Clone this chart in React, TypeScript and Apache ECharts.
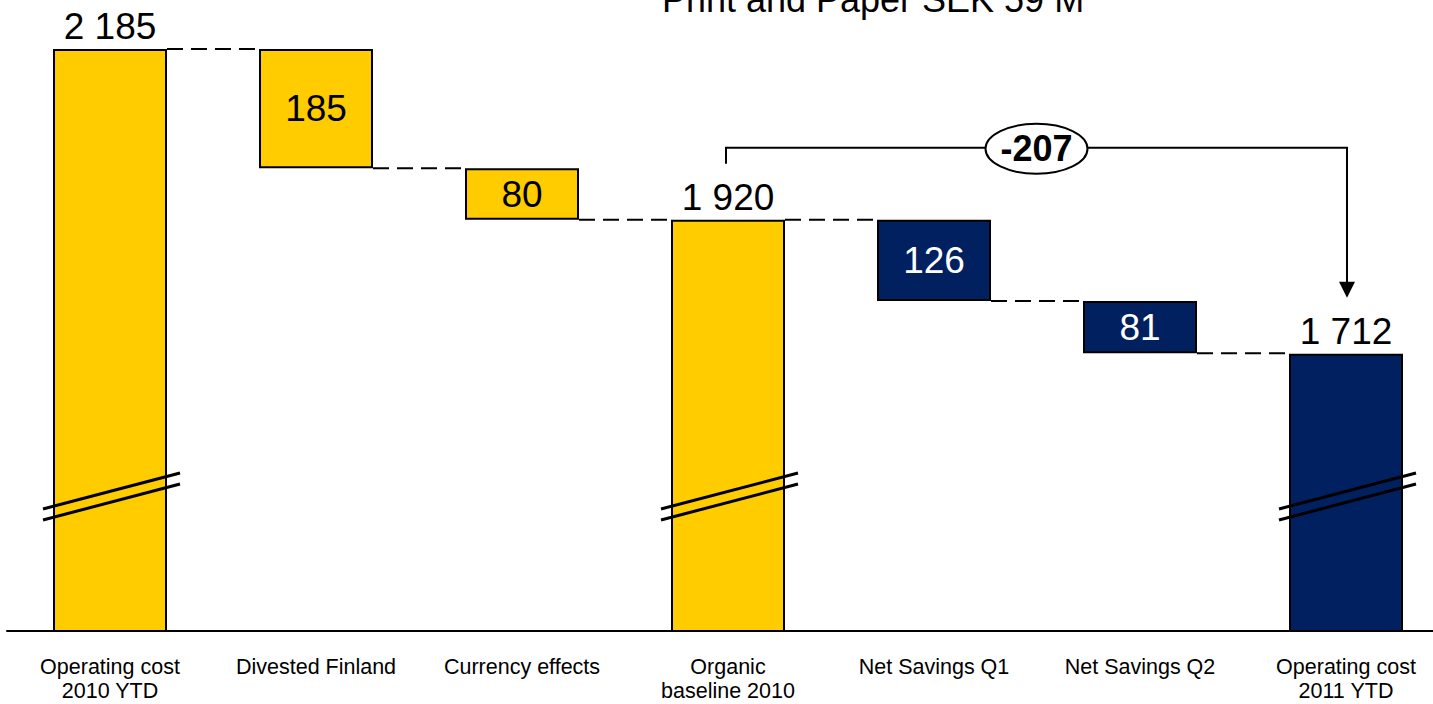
import React, { useEffect, useRef } from 'react';
import * as echarts from 'echarts';

const categories = [
  'Operating cost\n2010 YTD',
  'Divested Finland',
  'Currency effects',
  'Organic\nbaseline 2010',
  'Net Savings Q1',
  'Net Savings Q2',
  'Operating cost\n2011 YTD',
];
const values = [2185, 185, 80, 1920, 126, 81, 1712];
const isTotal = [true, false, false, true, false, false, true];
const barColors = ['#FFCC00', '#FFCC00', '#FFCC00', '#FFCC00', '#002060', '#002060', '#002060'];
const labelColors = ['#000', '#000', '#000', '#000', '#fff', '#fff', '#000'];
const titleText = 'Print and Paper SEK 59 M';
const bracketText = '-207';
const bracketFrom = 3;
const bracketTo = 6;
const axisMin = 1282;
const axisMax = 2261;

const FONT = 'Arial, "Liberation Sans", sans-serif';

const fmt = (v: number) => String(v).replace(/\B(?=(\d{3})+(?!\d))/g, ' ');

export default function App() {
  const ref = useRef<HTMLDivElement>(null);
  useEffect(() => {
    if (!ref.current) return;
    const chart = echarts.init(ref.current, null, { renderer: 'svg' });

    const tops: number[] = [];
    const bottoms: number[] = [];
    let level = 0;
    values.forEach((v, i) => {
      if (isTotal[i]) {
        tops.push(v);
        bottoms.push(0);
        level = v;
      } else {
        tops.push(level);
        bottoms.push(level - v);
        level = level - v;
      }
    });

    const barW = 114;

    chart.setOption({
      animation: false,
      grid: { left: 7, top: 0, bottom: 73, width: 1442, outerBoundsMode: 'none', containLabel: false },
      xAxis: {
        type: 'category',
        data: categories,
        axisTick: { show: false },
        axisLine: { lineStyle: { color: '#000', width: 2 } },
        axisLabel: {
          interval: 0,
          color: '#000',
          fontFamily: FONT,
          fontSize: 21.5,
          lineHeight: 24,
          margin: 24,
        },
      },
      yAxis: {
        type: 'value',
        min: axisMin,
        max: axisMax,
        show: false,
        splitLine: { show: false },
      },
      series: [
        {
          type: 'bar',
          stack: 'wf',
          barWidth: barW,
          silent: true,
          itemStyle: { color: 'transparent', borderWidth: 0 },
          data: bottoms,
        },
        {
          type: 'bar',
          stack: 'wf',
          barWidth: barW,
          data: values.map((v, i) => ({
            value: v,
            itemStyle: { color: barColors[i], borderColor: '#000', borderWidth: 2 },
            label: {
              show: true,
              position: isTotal[i] ? 'top' : 'inside',
              distance: 4,
              formatter: fmt(v),
              color: isTotal[i] ? '#000' : labelColors[i],
              fontFamily: FONT,
              fontSize: 37,
            },
          })),
        },
      ],
    });

    const pt = (i: number, v: number) => chart.convertToPixel({ gridIndex: 0 }, [i, v]) as number[];
    const half = barW / 2;
    const graphics: any[] = [];

    for (let i = 0; i < values.length - 1; i++) {
      const lvl = isTotal[i] ? tops[i] : bottoms[i];
      const a = pt(i, lvl);
      const b = pt(i + 1, lvl);
      graphics.push({
        type: 'line',
        shape: { x1: a[0] + half, y1: a[1], x2: b[0] - half, y2: b[1] },
        style: { stroke: '#000', lineWidth: 2, lineDash: [16, 8] },
      });
    }

    values.forEach((v, i) => {
      if (!isTotal[i]) return;
      const base = pt(i, axisMin);
      const cx = base[0];
      const yb = base[1] - 122;
      [0, 11].forEach((off) => {
        graphics.push({
          type: 'line',
          shape: { x1: cx - 67, y1: yb + off, x2: cx + 70, y2: yb + off - 36 },
          style: { stroke: '#000', lineWidth: 3 },
          z: 10,
        });
      });
    });

    const p1 = pt(bracketFrom, tops[bracketFrom]);
    const p2 = pt(bracketTo, tops[bracketTo]);
    const x1 = p1[0] - 2;
    const x2 = p2[0] + 1;
    const yTop = p1[1] - 72;
    const yFoot = p1[1] - 56;
    const yTip = p2[1] - 56;
    graphics.push({
      type: 'polyline',
      shape: { points: [[x1, yFoot], [x1, yTop], [x2, yTop], [x2, yTip - 10]] },
      style: { stroke: '#000', lineWidth: 2, fill: null },
      z: 10,
    });
    graphics.push({
      type: 'polygon',
      shape: { points: [[x2 - 8, yTip - 16], [x2 + 8, yTip - 16], [x2, yTip]] },
      style: { fill: '#000' },
      z: 10,
    });
    const ecx = (x1 + x2) / 2;
    graphics.push({
      type: 'ellipse',
      shape: { cx: ecx, cy: yTop + 1, rx: 51, ry: 25 },
      style: { fill: '#fff', stroke: '#000', lineWidth: 2 },
      z: 11,
    });
    graphics.push({
      type: 'text',
      x: ecx,
      y: yTop + 1,
      style: {
        text: bracketText,
        fill: '#000',
        font: `bold 36px ${FONT}`,
        align: 'center',
        verticalAlign: 'middle',
      },
      z: 12,
    });

    graphics.push({
      type: 'text',
      x: 873,
      y: -1,
      style: {
        text: titleText,
        fill: '#000',
        font: `36px ${FONT}`,
        align: 'center',
        verticalAlign: 'middle',
      },
      z: 12,
    });

    chart.setOption({ graphic: graphics });

    return () => chart.dispose();
  }, []);

  return (
    <div
      ref={ref}
      style={{ position: 'fixed', left: 0, top: 0, width: 1433, height: 704, background: '#fff' }}
    />
  );
}
